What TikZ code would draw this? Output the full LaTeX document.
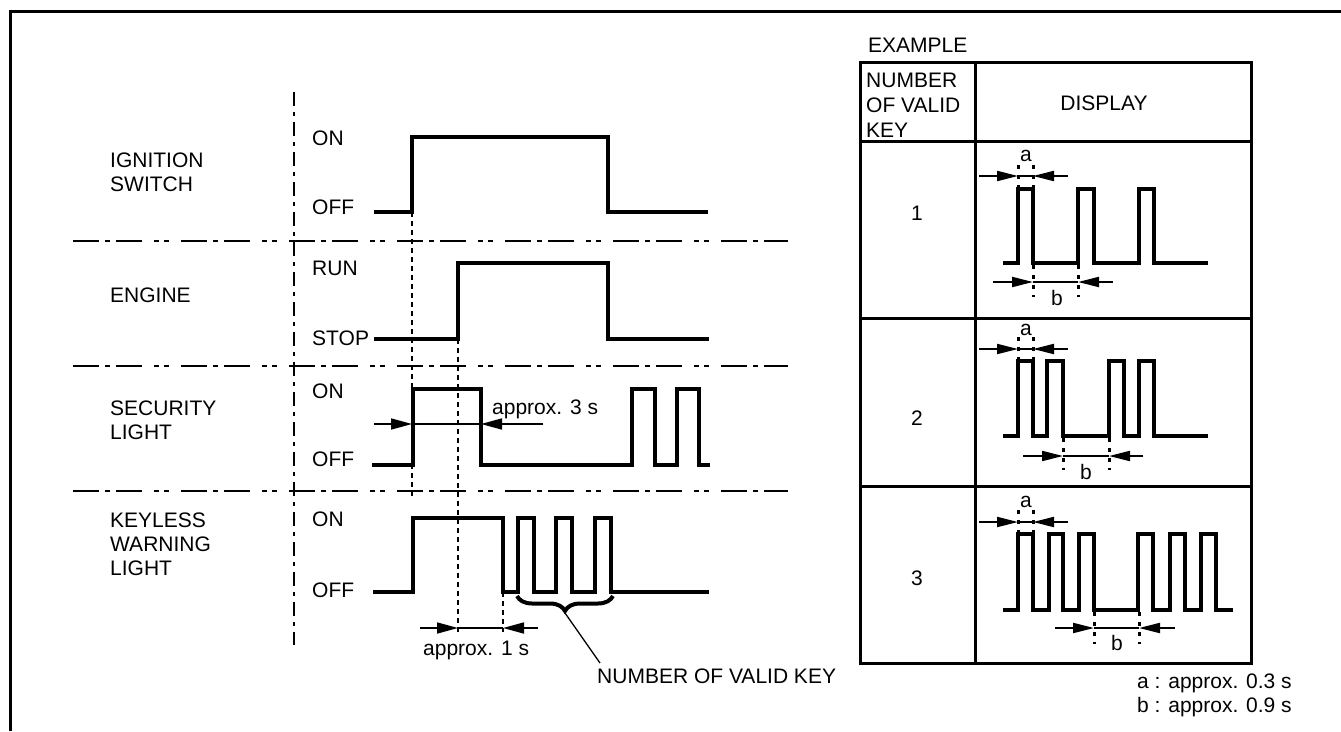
\documentclass[tikz,border=0pt]{standalone}
\usepackage{fontspec}
\setmainfont{Liberation Sans}
\usetikzlibrary{arrows.meta,decorations.pathreplacing}
\begin{document}
\begin{tikzpicture}[x=1pt,y=-1pt,
  every node/.style={font=\fontsize{21}{24}\selectfont, inner sep=0pt},
  lab/.style={anchor=west, align=left},
  sig/.style={line width=4pt, line join=miter},
  frm/.style={line width=3pt},
  sep/.style={line width=2pt, dash pattern=on 26pt off 6pt on 5pt off 6pt on 26pt off 12pt on 5pt off 5pt on 5pt off 12pt},
  vsep/.style={line width=2pt, dash pattern=on 14pt off 6pt on 4pt off 6pt},
  tim/.style={line width=2pt, dash pattern=on 5pt off 4pt},
  tdot/.style={line width=3pt, dash pattern=on 4pt off 6pt},
  dim/.style={line width=1.6pt},
  dimarr/.style={line width=1.6pt, -{Triangle[length=21pt,width=11pt]}},
  tarr/.style={line width=2pt, -{Triangle[length=21pt,width=10pt]}}
]
\useasboundingbox (0,0) rectangle (1341,731);
% frame
\draw[frm] (10,731) -- (10,11) -- (1341,11);

% left labels
\node[lab] (lign) at (110,172) {IGNITION\\SWITCH};
\node[lab] (leng) at (110,295) {ENGINE};
\node[lab] (lsec) at (110,420) {SECURITY\\LIGHT};
\node[lab] (lkey) at (110,544) {KEYLESS\\WARNING\\LIGHT};

% separators
\draw[vsep] (294,92) -- (294,645);
\foreach \yy in {241,366,491} \draw[sep] (73,\yy) -- (788,\yy);

% state labels
\node[lab] (on1) at (312,138) {ON};
\node[lab] (off1) at (312,207) {OFF};
\node[lab] (run) at (312,268) {RUN};
\node[lab] (stop) at (312,338) {STOP};
\node[lab] (on3) at (312,391) {ON};
\node[lab] (off3) at (312,459) {OFF};
\node[lab] (on4) at (312,519) {ON};
\node[lab] (off4) at (312,590) {OFF};

% waveforms
\draw[sig] (374,212) -- (412,212) -- (412,137) -- (608,137) -- (608,212) -- (708,212);
\draw[sig] (374,339) -- (458,339) -- (458,263) -- (608,263) -- (608,339) -- (709,339);
\draw[sig] (372,465) -- (413,465) -- (413,389) -- (481,389) -- (481,465) -- (632,465) -- (632,389) -- (655,389) -- (655,465) -- (677,465) -- (677,389) -- (699,389) -- (699,465) -- (710,465);
\draw[sig] (373,592) -- (413,592) -- (413,518) -- (503,518) -- (503,592) -- (518,592) -- (518,518) -- (534,518) -- (534,592) -- (556,592) -- (556,518) -- (572,518) -- (572,592) -- (595,592) -- (595,518) -- (611,518) -- (611,592) -- (709,592);

% timing lines
\draw[tim] (412,212) -- (412,498);
\draw[tim] (458,339) -- (458,634);
\draw[tim] (503,592) -- (503,632);

% approx 3 s
\coordinate (s3a) at (374,424);
\coordinate (s3b) at (412,424);
\coordinate (s3c) at (481,424);
\coordinate (s3d) at (543,424);
\draw[dimarr] (s3a) -- (s3b);
\draw[dim] (s3b) -- (s3c);
\draw[dimarr] (s3d) -- (s3c);
\node[lab] (t3) at (492,409) {approx. 3 s};

% approx 1 s
\coordinate (s1a) at (420,628);
\coordinate (s1b) at (458,628);
\coordinate (s1c) at (503,628);
\coordinate (s1d) at (538,628);
\draw[dimarr] (s1a) -- (s1b);
\draw[dim] (s1b) -- (s1c);
\draw[dimarr] (s1d) -- (s1c);
\node[lab] (t1) at (423,650) {approx. 1 s};

% brace
\draw[line width=4pt, decorate, decoration={brace, mirror, amplitude=15pt}] (517,596) -- (613,596);
\coordinate (btip) at (565,613);
\node[lab] (nvk) at (597,676) {NUMBER OF VALID KEY};
\coordinate (bend) at (600,663);
\draw[line width=1.3pt] (btip) -- (bend);

% table
\node[lab] (ex) at (868,45) {EXAMPLE};
\draw[frm] (860,62) rectangle (1251,663);
\draw[frm] (975,62) -- (975,663);
\foreach \yy in {141,318,486} \draw[frm] (860,\yy) -- (1251,\yy);
\node[lab, font=\fontsize{21}{25}\selectfont] (hnum) at (866,105) {NUMBER\\OF VALID\\KEY};
\node (hdisp) at (1104,103) {DISPLAY};
\node (n1) at (917,213) {1};
\node (n2) at (917,418) {2};
\node (n3) at (917,578) {3};

% row 1
\draw[sig] (1003,263) -- (1018,263) -- (1018,189) -- (1033,189) -- (1033,263) -- (1078,263) -- (1078,189) -- (1094,189) -- (1094,263) -- (1139,263) -- (1139,189) -- (1154,189) -- (1154,263) -- (1208,263);
\node (a1) at (1026,156) {a};
\draw[tdot] (1018,165) -- (1018,189);
\draw[tdot] (1033,165) -- (1033,189);
\draw[tarr] (979,176) -- (1018,176);
\draw[dim] (1018,176) -- (1033,176);
\draw[tarr] (1068,176) -- (1033,176);
\draw[tdot] (1033,265) -- (1033,297);
\draw[tdot] (1078,265) -- (1078,297);
\draw[tarr] (993,282) -- (1033,282);
\draw[dim] (1033,282) -- (1078,282);
\draw[tarr] (1113,282) -- (1078,282);
\node (b1) at (1057,298) {b};

% row 2
\draw[sig] (1003,436) -- (1018,436) -- (1018,361) -- (1033,361) -- (1033,436) -- (1047,436) -- (1047,361) -- (1063,361) -- (1063,436) -- (1109,436) -- (1109,361) -- (1124,361) -- (1124,436) -- (1139,436) -- (1139,361) -- (1154,361) -- (1154,436) -- (1208,436);
\node (a2) at (1026,330) {a};
\draw[tdot] (1018,337) -- (1018,361);
\draw[tdot] (1033,337) -- (1033,361);
\draw[tarr] (979,349) -- (1018,349);
\draw[dim] (1018,349) -- (1033,349);
\draw[tarr] (1068,349) -- (1033,349);
\draw[tdot] (1063,438) -- (1063,470);
\draw[tdot] (1109,438) -- (1109,470);
\draw[tarr] (1023,456) -- (1063,456);
\draw[dim] (1063,456) -- (1109,456);
\draw[tarr] (1143,456) -- (1109,456);
\node (b2) at (1086,472) {b};

% row 3
\draw[sig] (1003,610) -- (1018,610) -- (1018,534) -- (1033,534) -- (1033,610) -- (1049,610) -- (1049,534) -- (1063,534) -- (1063,610) -- (1079,610) -- (1079,534) -- (1094,534) -- (1094,610) -- (1138,610) -- (1138,534) -- (1153,534) -- (1153,610) -- (1170,610) -- (1170,534) -- (1185,534) -- (1185,610) -- (1201,610) -- (1201,534) -- (1216,534) -- (1216,610) -- (1233,610);
\node (a3) at (1026,502) {a};
\draw[tdot] (1018,510) -- (1018,534);
\draw[tdot] (1033,510) -- (1033,534);
\draw[tarr] (979,522) -- (1018,522);
\draw[dim] (1018,522) -- (1033,522);
\draw[tarr] (1068,522) -- (1033,522);
\draw[tdot] (1094,612) -- (1094,644);
\draw[tdot] (1139,612) -- (1139,644);
\draw[tarr] (1055,628) -- (1094,628);
\draw[dim] (1094,628) -- (1139,628);
\draw[tarr] (1175,628) -- (1139,628);
\node (b3) at (1117,643) {b};

% notes
\node[lab] (na) at (1137,683) {a : approx. 0.3 s};
\node[lab] (nb) at (1137,707) {b : approx. 0.9 s};
\end{tikzpicture}
\end{document}
